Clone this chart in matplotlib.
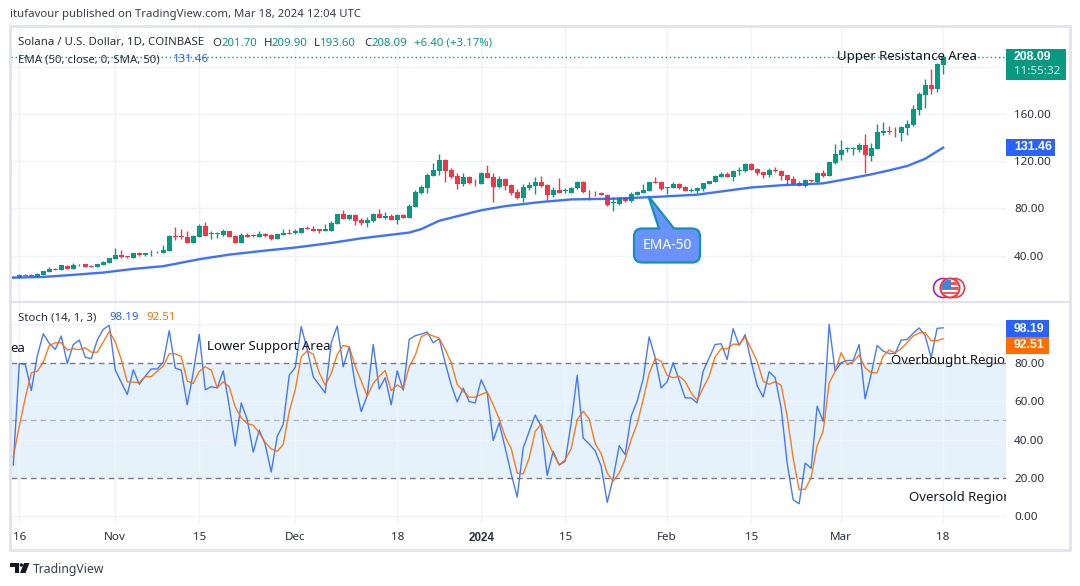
#!/usr/bin/env python

import numpy as np
import matplotlib
matplotlib.use("Agg")
import matplotlib.pyplot as plt
from matplotlib.patches import Rectangle, Circle, PathPatch, Polygon
from matplotlib.path import Path

plt.rcParams['font.family'] = ['Noto Sans', 'DejaVu Sans']

W, H = 1080, 586

# Daily candles, Oct 15 2023 to Mar 18 2024
opens = [22.2,21.3,23.6,23.6,21.9,23.9,26.4,29.0,28.1,31.2,29.0,32.7,33.2,31.5,30.7,32.4,34.1,
         37.5,40.8,40.0,38.3,42.5,40.8,42.8,42.8,42.5,44.2,57.0,57.0,56.1,51.0,56.1,65.4,58.7,58.4,57.8,61.2,57.0,51.0,57.8,56.4,56.1,58.7,57.8,54.4,57.8,59.5,
         59.5,59.5,63.7,62.9,62.1,61.2,61.2,67.1,75.6,71.4,74.8,70.4,67.8,69.5,75.4,72.0,73.7,70.4,74.6,72.0,81.4,93.3,97.5,107.7,111.9,121.2,112.8,107.7,100.9,106.8,102.6,
         100.9,110.2,106.8,98.3,105.1,100.0,94.1,89.0,97.5,99.2,102.6,100.0,91.6,95.8,94.7,93.3,97.5,102.6,94.9,94.1,93.3,91.6,84.8,83.9,89.0,86.5,91.6,93.3,94.9,102.0,102.0,
         97.2,97.5,100.9,98.3,94.9,94.9,96.4,100.7,102.4,106.6,109.1,106.6,111.7,111.7,117.6,113.4,110.8,108.3,112.5,111.7,108.3,104.9,101.5,99.2,103.8,102.4,110.0,107.4,118.5,
         125.2,130.0,130.0,129.5,133.7,124.4,130.3,143.9,145.9,145.0,143.9,148.1,150.7,163.4,176.1,184.6,181.2,201.70]
highs = [22.5,24.7,24.4,24.4,25.3,27.3,30.7,29.8,32.4,32.4,34.1,33.2,33.2,32.1,33.2,35.8,38.3,
         46.8,45.1,40.0,42.5,43.4,42.5,45.1,44.0,49.3,57.8,64.6,62.1,60.4,57.8,67.1,68.8,60.4,60.1,62.9,61.2,57.8,59.2,59.5,58.4,60.4,59.5,58.7,58.7,62.1,62.1,
         62.1,63.7,65.4,65.4,62.9,67.1,69.7,75.6,78.2,75.6,75.6,71.5,72.9,76.3,79.7,77.1,75.2,75.4,75.4,83.9,95.8,100.0,110.2,118.7,126.3,122.1,114.5,110.2,110.2,107.7,105.1,
         111.1,117.0,110.2,107.7,106.0,100.9,96.6,100.9,102.6,106.8,107.7,100.9,98.3,106.0,97.5,98.3,103.4,103.4,95.8,94.4,94.1,92.4,89.9,89.9,89.9,94.1,94.9,100.9,102.6,106.5,102.6,
         98.3,102.3,101.7,99.2,97.5,98.3,101.2,103.2,108.3,110.8,110.8,112.5,115.1,118.5,118.5,114.2,110.8,114.2,115.1,112.5,108.3,107.4,103.2,104.9,103.8,110.8,112.5,119.3,134.6,
         138.0,132.0,132.0,135.4,143.0,135.4,151.5,153.2,149.8,149.0,149.8,154.9,167.6,178.6,189.4,198.1,203.2,209.90]
lows = [21.0,21.0,22.5,22.5,21.5,23.9,26.4,28.1,28.1,29.0,29.0,31.0,30.7,30.7,30.7,32.4,34.1,
        37.5,38.3,38.3,38.3,40.0,40.0,40.0,42.5,42.5,44.2,53.6,54.4,51.0,51.0,56.1,57.0,54.4,55.3,57.0,56.1,51.0,51.0,56.1,56.1,56.1,56.1,53.6,54.4,57.8,58.7,
        58.7,59.5,62.1,60.4,59.5,61.2,61.2,67.1,71.4,70.5,66.3,66.1,63.9,68.7,72.0,71.2,70.4,67.0,72.0,72.0,81.4,92.4,93.3,107.7,108.5,102.6,106.0,96.6,99.2,100.9,99.2,
        100.9,106.0,85.6,97.5,95.8,91.6,88.2,85.6,95.8,92.4,98.3,87.3,89.9,93.3,93.3,93.3,96.6,93.3,87.3,90.7,91.0,82.2,78.0,83.1,85.6,85.6,91.6,93.3,94.9,101.4,95.8,
        92.4,97.5,96.6,94.9,94.1,93.3,95.0,100.7,102.4,106.6,106.6,103.2,108.3,110.8,112.5,108.3,105.7,106.6,110.8,104.0,99.8,99.8,99.2,98.1,102.4,100.7,106.6,107.4,117.6,
        121.0,127.8,125.2,127.8,110.0,120.2,130.3,142.2,143.0,140.5,137.1,142.2,149.8,159.1,165.1,176.9,178.6,193.60]
closes = [21.3,23.6,23.0,23.0,24.7,27.3,29.0,28.1,32.4,29.0,32.1,33.2,30.7,30.7,33.2,34.9,38.3,
          40.8,39.2,39.2,42.5,40.8,42.5,43.4,43.4,45.1,57.0,56.1,56.1,51.0,57.0,65.4,57.0,59.5,59.2,61.2,56.1,51.0,57.8,56.1,57.2,58.7,57.0,54.4,58.7,59.5,58.7,
          60.6,63.7,62.6,61.2,61.2,62.1,68.0,75.6,71.4,74.8,69.7,67.8,70.4,75.4,72.0,73.7,70.4,74.6,72.0,82.2,94.1,98.3,108.5,112.8,121.2,111.9,106.8,100.9,106.8,101.7,102.0,
          110.2,106.0,98.3,105.1,99.2,93.3,89.0,98.3,100.0,102.6,99.2,91.6,95.8,93.3,95.5,97.5,102.6,94.1,94.4,93.5,91.0,83.1,85.6,89.0,86.5,92.4,94.1,95.8,102.0,101.4,96.6,
          98.1,100.9,97.5,94.9,95.8,97.5,101.2,103.2,107.4,109.1,106.6,111.7,112.5,117.6,112.5,110.0,108.3,112.5,111.7,107.4,104.0,100.7,99.2,104.0,103.2,110.0,107.4,119.3,126.1,
          129.5,130.9,130.9,133.7,125.2,131.2,144.7,145.6,144.7,144.5,149.0,151.5,164.2,176.9,184.6,181.2,202.4,208.09]

ema_days = [0,5,9,15,20,25,31,36,42,47,53,58,66,68,71,78,82,88,93,100,107,114,123,128,131,135,139,143,146,149,152,155]
ema_values = [21.3,21.9,23.3,25.6,28.7,31.0,36.9,40.8,44.2,46.8,50.7,54.6,59.5,62.4,69.5,78.4,81.9,85.4,87.6,88.2,89.7,91.6,97.7,99.6,100.2,101.2,104.9,108.8,112.2,115.9,122.0,131.46]

stoch_k = [26.8,79.6,79.1,65.5,83.5,95.1,90.1,86.9,93.9,79.6,89.4,91.8,82.9,82.1,91.8,97.4,99.5,
           76.2,69.9,63.5,76.3,68.8,73.0,76.8,76.8,80.3,96.7,77.2,76.2,58.1,74.8,94.8,66.0,67.5,66.9,75.8,57.4,36.7,59.1,50.4,33.5,45.0,37.4,23.1,41.7,48.0,73.5,
           77.5,98.8,86.9,72.7,68.5,64.3,90.4,99.1,77.9,88.3,68.7,54.6,62.9,89.5,66.4,72.2,58.1,75.8,65.7,92.1,94.1,94.9,96.0,90.4,92.5,80.0,68.5,59.6,66.8,59.8,59.1,
           71.1,64.3,39.5,48.7,35.6,22.2,10.1,35.6,44.3,52.8,46.9,21.4,33.9,26.8,28.7,48.7,73.4,40.8,37.7,34.2,26.1,7.3,20.0,36.8,32.2,52.2,60.0,71.6,93.5,82.6,66.9,
           70.1,80.0,70.9,61.7,61.7,59.1,75.6,82.6,89.5,89.9,81.7,97.7,89.0,94.6,80.8,68.1,62.2,75.3,72.3,56.5,27.8,8.7,6.6,27.8,25.0,57.4,49.5,100.0,75.6,
           80.0,81.2,81.2,89.5,61.2,73.9,89.0,86.1,84.8,84.8,91.8,92.1,95.3,98.1,94.2,82.6,97.9,98.19]
stoch_d = [31.1,46.9,61.7,74.8,75.5,80.3,89.0,90.4,90.4,86.6,87.3,86.8,87.8,85.5,85.5,90.8,96.3,
           90.9,81.7,70.1,69.9,69.7,72.8,72.8,75.6,78.2,84.7,84.7,83.3,70.4,69.2,75.5,77.9,76.2,66.9,70.1,67.5,57.0,51.3,48.3,47.5,43.5,38.6,35.1,33.9,37.5,54.6,
           66.0,83.1,86.2,84.5,74.8,68.3,74.4,84.3,89.0,88.3,78.2,70.4,62.6,69.2,73.0,76.0,65.4,68.5,66.4,77.9,83.8,93.5,95.1,93.9,92.8,86.9,80.0,68.7,65.2,62.1,62.1,
           63.5,64.8,58.2,50.8,41.4,35.4,22.6,22.1,30.4,44.3,48.0,39.6,32.7,26.9,29.5,35.3,50.4,54.8,50.8,37.9,32.7,22.6,18.4,22.6,29.9,40.0,48.3,60.8,74.4,82.2,80.8,
           73.4,72.2,73.0,70.4,64.3,60.5,66.9,73.0,83.1,87.3,87.3,89.7,89.5,93.5,87.3,80.8,70.4,68.8,70.2,68.3,52.2,30.4,13.9,14.2,20.3,36.8,44.3,69.5,75.5,
           85.2,79.1,80.5,84.0,77.4,74.8,74.8,83.5,86.6,85.2,87.3,90.4,93.9,95.5,95.8,91.5,91.5,92.51]

date_ticks = [1,17,31,47,64,78,92,109,123,138,155]
date_labels = ['16','Nov','15','Dec','18','2024','15','Feb','15','Mar','18']
price_ticks = [40,80,120,160,200]
stoch_ticks = [0,20,40,60,80,100]

GREEN = '#089981'
RED = '#f23645'
BLUE = '#2962ff'
ORANGE = '#ff6d00'
GRID = '#f0f3fa'
FRAME = '#e0e3eb'
TEXT = '#131722'
FONT = 8.2
SCALE_FONT = 8.4
BOLD = ['Liberation Sans', 'DejaVu Sans']


def px_axes(left, top, right, bottom):
    return fig.add_axes([left / W, 1 - bottom / H, (right - left) / W, (bottom - top) / H])


def draw_frame(ax, ticks, labels):
    for spine in ax.spines.values():
        spine.set_visible(False)
    ax.set_yticks(ticks)
    ax.set_yticklabels(labels, color='#2a2e39', fontsize=SCALE_FONT)
    ax.yaxis.tick_right()
    ax.tick_params(axis='y', length=0, pad=6.3)
    ax.grid(True, color=GRID, lw=1)
    ax.set_axisbelow(True)


fig = plt.figure(figsize=(W / 100, H / 100), dpi=100, facecolor='white')

# Price panel
ax = px_axes(11, 27, 1005.5, 301)
days = np.arange(len(opens))
o, h, l, c = map(np.array, (opens, highs, lows, closes))
colors = [GREEN if b >= a else RED for a, b in zip(o, c)]
ax.vlines(days, l, h, colors=colors, lw=1, zorder=2)
ax.bar(days, np.abs(c - o), bottom=np.minimum(o, c), width=0.8, color=colors, lw=0, zorder=3)
ax.plot(ema_days, ema_values, color=BLUE, lw=1.7, alpha=0.9, zorder=4)
ax.axhline(closes[-1], color=GREEN, lw=1, ls=(0, (1, 2)), zorder=1)
ax.set_xlim(-0.38, 165.4)
ax.set_ylim(1.5, 233.7)
ax.set_xticks(date_ticks)
ax.tick_params(axis='x', length=0, labelbottom=False)
draw_frame(ax, price_ticks, ['40.00', '80.00', '120.00', '160.00', ''])

# Stochastic panel
ax2 = px_axes(11, 303, 1005.5, 523)
ax2.axhspan(20, 80, color='#e5f2fc', lw=0, zorder=0.5)
ax2.axhline(80, color='#787b86', lw=1, ls=(0, (4, 3)), zorder=1)
ax2.axhline(50, color='#b2b5be', lw=1, ls=(0, (4, 3)), zorder=1)
ax2.axhline(20, color='#787b86', lw=1, ls=(0, (4, 3)), zorder=1)
ax2.plot(days, stoch_k, color=BLUE, lw=1, alpha=0.85, zorder=3)
ax2.plot(days, stoch_d, color=ORANGE, lw=1, alpha=0.9, zorder=4)
ax2.set_xlim(-0.38, 165.4)
ax2.set_ylim(-3.4, 111.1)
ax2.set_xticks(date_ticks)
ax2.set_xticklabels(date_labels, color='#2a2e39', fontsize=SCALE_FONT)
ax2.get_xticklabels()[5].set_fontweight('bold')
ax2.get_xticklabels()[5].set_family(BOLD)
ax2.tick_params(axis='x', length=0, pad=6.2)
draw_frame(ax2, stoch_ticks, ['0.00', '20.00', '40.00', '60.00', '80.00', ''])

# Overlay in pixel coordinates for the frame, tags and drawn labels
top = fig.add_axes([0, 0, 1, 1], zorder=10)
top.set_xlim(0, W)
top.set_ylim(H, 0)
top.axis('off')
top.patch.set_alpha(0)


def label(x, y, s, color=TEXT, size=FONT, **kw):
    kw.setdefault('va', 'center')
    return top.text(x, y + 1, s, color=color, fontsize=size, **kw)


def tag(x0, x1, y0, y1, color):
    top.add_patch(Rectangle((x0, y0), x1 - x0, y1 - y0, fc=color, ec='none', zorder=3))


top.add_patch(Rectangle((10, 26), 1060, 524, fc='none', ec=FRAME, lw=2))
top.plot([10, 1070], [301.7, 301.7], color=FRAME, lw=1.5)

label(10, 14, 'itufavour published on TradingView.com, Mar 18, 2024 12:04 UTC', color='#3a3e4a')

label(18, 42, 'Solana / U.S. Dollar, 1D, COINBASE', color='#2a2e39')
for x, s, col in [(212, 'O', '#2a2e39'), (221, '201.70', GREEN), (263.5, 'H', '#2a2e39'), (271, '209.90', GREEN),
                  (314, 'L', '#2a2e39'), (320, '193.60', GREEN), (364, 'C', '#2a2e39'), (371, '208.09', GREEN),
                  (413.5, '+6.40 (+3.17%)', GREEN)]:
    label(x, 42, s, color=col)
label(18, 59, 'EMA (50, close, 0, SMA, 50)', color='#2a2e39')
label(173, 59, '131.46', color=BLUE)
label(18, 317, 'Stoch (14, 1, 3)', color='#2a2e39')
label(109, 317, '98.19', color=BLUE)
label(146, 317, '92.51', color=ORANGE)

tag(1006, 1066, 49, 80, GREEN)
label(1014, 56.5, '208.09', color='white', weight='bold', family=BOLD, size=8.8, zorder=4)
label(1014, 71, '11:55:32', color='#d6efe9', size=8.4, zorder=4)
tag(1006, 1055, 139, 156, BLUE)
label(1014, 146.5, '131.46', color='white', weight='bold', family=BOLD, size=8.8, zorder=4)
tag(1006, 1049, 320, 337, BLUE)
label(1014, 327.5, '98.19', color='white', weight='bold', family=BOLD, size=8.8, zorder=4)
tag(1006, 1049, 337, 354, ORANGE)
label(1014, 344.5, '92.51', color='white', weight='bold', family=BOLD, size=8.8, zorder=4)

# Hand drawn text from the author, the right hand ones get cut by the scale
label(837, 55.5, 'Upper Resistance Area', size=9.5)
label(207, 345.5, 'Lower Support Area', size=9.5)
label(10, 347, 'ea', size=9.5)
clip = Rectangle((11, 303), 995, 220, transform=top.transData)
for x, y, s in [(891, 359.5, 'Overbought Region'), (909, 496.5, 'Oversold Region')]:
    t = label(x, y, s, size=9.5)
    t.set_clip_on(True)
    t.set_clip_path(clip)

# EMA-50 callout
x0, x1, y0, y1, r = 634, 700, 228.5, 262.5, 8
verts = [(x0 + r, y0), (659, y0), (648.3, 196), (674, y0), (x1 - r, y0), (x1, y0), (x1, y0 + r), (x1, y1 - r), (x1, y1),
         (x1 - r, y1), (x0 + r, y1), (x0, y1), (x0, y1 - r), (x0, y0 + r), (x0, y0), (x0 + r, y0), (x0 + r, y0)]
codes = [Path.MOVETO, Path.LINETO, Path.LINETO, Path.LINETO, Path.LINETO, Path.CURVE3, Path.CURVE3, Path.LINETO, Path.CURVE3,
         Path.CURVE3, Path.LINETO, Path.CURVE3, Path.CURVE3, Path.LINETO, Path.CURVE3, Path.CURVE3, Path.CLOSEPOLY]
top.add_patch(PathPatch(Path(verts, codes), fc='#6a92ff', ec='#1391b5', lw=1.6))
label(667, 244.5, 'EMA-50', color='white', size=10, ha='center')

# Earnings / economic event badges
top.add_patch(Circle((943, 288), 9.5, fc='white', ec='#9c27b0', lw=1.2))
top.add_patch(Circle((955, 288), 9.5, fc='white', ec=RED, lw=1.2))
top.add_patch(Circle((950, 288), 9.5, fc='white', ec=RED, lw=1.5))
flag_clip = Circle((950, 288), 8.5, transform=top.transData)
for yy in (283.5, 288.5, 293):
    stripe = Rectangle((940, yy - 1.2), 20, 2.4, fc='#f0555f', ec='none')
    top.add_patch(stripe)
    stripe.set_clip_path(flag_clip)
canton = Rectangle((941, 280), 10, 9, fc='#3d87e0', ec='none')
top.add_patch(canton)
canton.set_clip_path(flag_clip)

# Footer logo
top.add_patch(Polygon([(10, 563), (19, 563), (19, 573), (14.5, 573), (14.5, 566.5), (10, 566.5)], fc='#131722', ec='none'))
top.add_patch(Circle((21.3, 565), 1.7, fc='#131722', ec='none'))
top.add_patch(Polygon([(24, 563), (29.5, 563), (25.5, 573), (20, 573)], fc='#131722', ec='none'))
label(33, 568, 'TradingView', color='#3a3e4a', size=8.8)

plt.savefig('out.png', dpi=100)
